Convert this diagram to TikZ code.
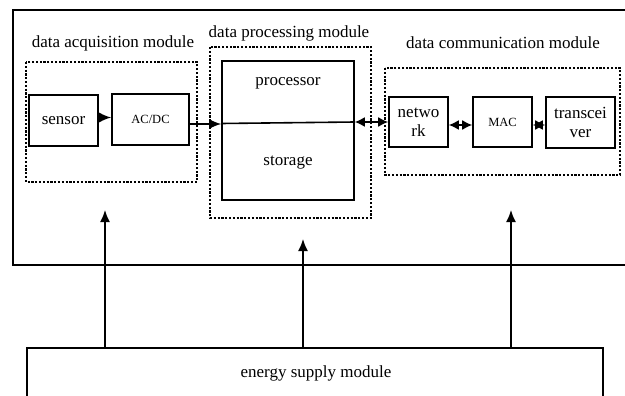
\documentclass[tikz,border=0pt]{standalone}
\usepackage{fontspec}
\setmainfont{Liberation Serif}
\usetikzlibrary{arrows.meta}
\begin{document}
\begin{tikzpicture}[x=1pt,y=-1pt,
  solidbox/.style={draw,line width=1.6pt,inner sep=0pt,align=center,font=\fontsize{17}{19}\selectfont},
  dotbox/.style={draw,line width=1.3pt,dash pattern=on 2.2pt off 1.6pt},
  lbl/.style={inner sep=0pt,font=\fontsize{17}{19}\selectfont},
  arr/.style={line width=1.6pt,-{Latex[length=12pt,width=10pt]}},
  darr/.style={line width=1.6pt,{Latex[length=10pt,width=10pt]}-{Latex[length=10pt,width=10pt]}}]
\clip (0,0) rectangle (625,396);
\fill[white] (0,0) rectangle (625,396);
% outer frame
\draw[line width=1.6pt] (640,10) -- (13,10) -- (13,265) -- (640,265);
% dashed modules
\draw[dotbox] (26,62) rectangle (197,182);
\draw[dotbox] (210,47) rectangle (371,218);
\draw[dotbox] (385,68) rectangle (620,175);
% module labels
\node[lbl] (lacq) at (113,43) {data acquisition module};
\node[lbl] (lproc) at (289,33) {data processing module};
\node[lbl] (lcomm) at (503,43) {data communication module};
% boxes
\node[solidbox,minimum width=69pt,minimum height=51pt] (sensor) at (63.5,120.5) {sensor};
\node[solidbox,minimum width=77pt,minimum height=51pt,font=\fontsize{12.5}{14}\selectfont] (acdc) at (150.5,119.5) {AC/DC};
\node[solidbox,minimum width=132pt,minimum height=139pt] (proc) at (288,130.5) {};
\node[lbl] (tproc) at (288,83) {processor};
\node[lbl] (tstor) at (288,163) {storage};
\node[solidbox,minimum width=59pt,minimum height=50pt] (net) at (418.5,122) {netwo\\rk};
\node[solidbox,minimum width=59pt,minimum height=50pt,font=\fontsize{12.5}{14}\selectfont] (mac) at (502.5,122) {MAC};
\node[solidbox,minimum width=69pt,minimum height=51pt] (trans) at (580.5,122.5) {transcei\\ver};
% connectors
\draw[arr] ([yshift=3pt]sensor.east) -- ([yshift=3pt]sensor.east -| acdc.west);
\draw[arr] ([yshift=-4.5pt]acdc.east) -- ([yshift=-4.5pt]acdc.east -| proc.west);
\draw[line width=1.6pt] ([yshift=7pt]proc.west) -- ([yshift=8.5pt]proc.east);
\draw[darr] ([yshift=8.5pt]proc.east) -- ([yshift=8.5pt]proc.east -| net.west);
\draw[darr] ([yshift=-3pt]net.east) -- ([yshift=-3pt]net.east -| mac.west);
\draw[darr] ([yshift=-3pt]mac.east) -- ([yshift=-3pt]mac.east -| trans.west);
% energy supply
\draw[line width=1.6pt] (27,410) -- (27,348) coordinate (eL) -- (603,348) coordinate (eR) -- (603,410);
\node[lbl] (energy) at (316,373) {energy supply module};
\coordinate (e1) at (105,348);
\coordinate (e2) at (303,348);
\coordinate (e3) at (511,348);
\coordinate (t1) at (105,210);
\coordinate (t2) at (303,239);
\coordinate (t3) at (511,210);
\draw[arr] (e1) -- (t1);
\draw[arr] (e2) -- (t2);
\draw[arr] (e3) -- (t3);
\end{tikzpicture}
\end{document}
